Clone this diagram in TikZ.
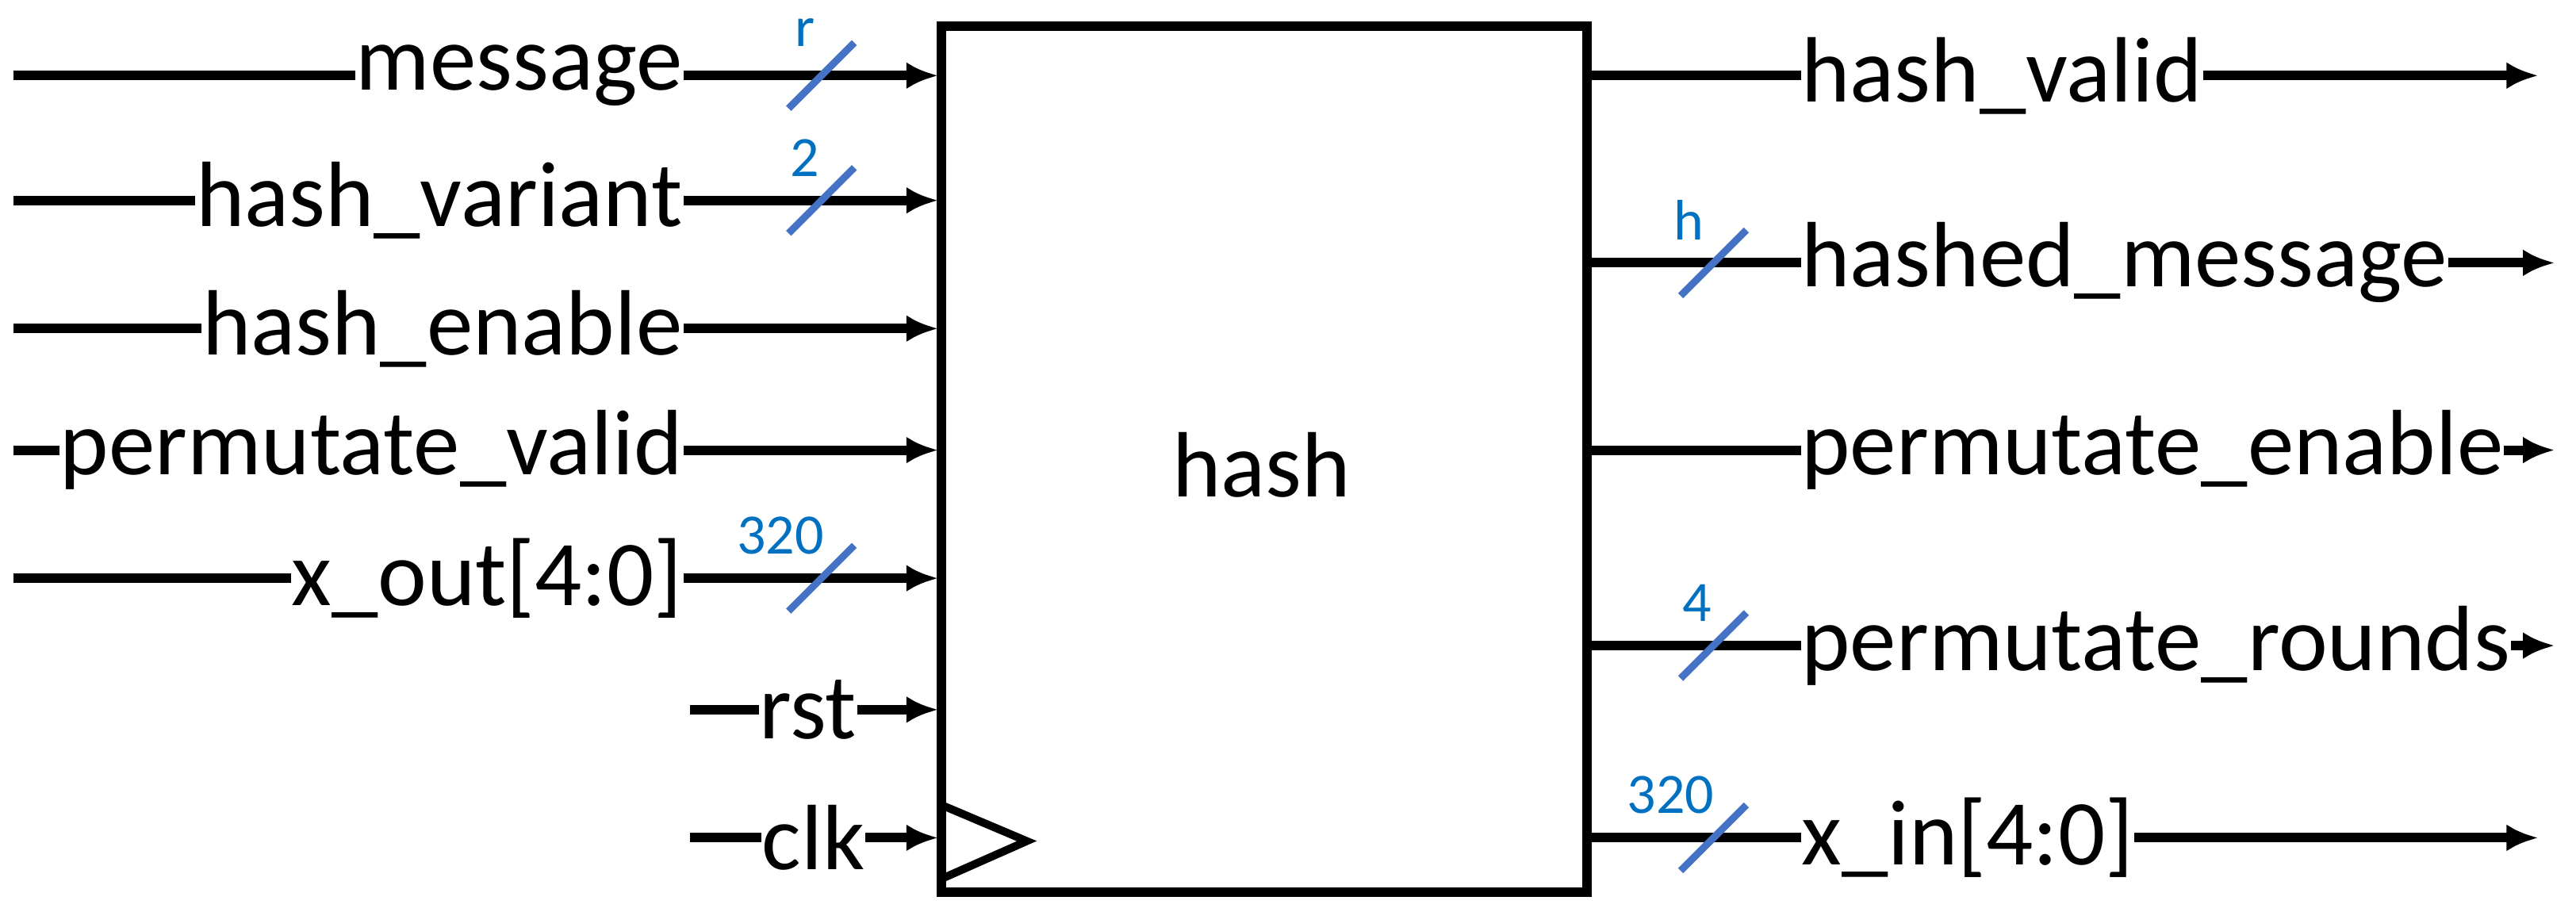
\documentclass[tikz,border=0pt]{standalone}
\usepackage{fontspec}
\setmainfont{Carlito}
\usetikzlibrary{arrows.meta}
\definecolor{busblue}{RGB}{68,114,196}
\definecolor{lblblue}{RGB}{0,112,192}
\begin{document}
\begin{tikzpicture}[x=2.0714pt,y=-2.0714pt,
  wire/.style={line width=12pt,-{Latex[length=40pt,width=34pt]}},
  lbl/.style={fill=white,inner sep=1pt,font=\fontsize{117}{120}\selectfont},
  bus/.style={line width=9pt,busblue},
  buslbl/.style={text=lblblue,inner sep=0pt,font=\fontsize{72}{74}\selectfont}]
\useasboundingbox (0,0) rectangle (1568,555);
\node[draw,line width=12pt,minimum width=393*2.0714pt,minimum height=527*2.0714pt,inner sep=0pt] (box) at (769.5,279.5) {};
\node[font=\fontsize{117}{120}\selectfont] (hash) at (768,283) {hash};
% clock triangle
\draw[line width=10pt,line join=miter] (573,490) coordinate (c1) -- (625,512) coordinate (c2) -- (573,535) coordinate (c3);
% inputs
\foreach \n/\t/\y/\xs/\xt in {m/message/46/8/416, hv/hash\_variant/122/8/416, he/hash\_enable/200/8/416, pv/permutate\_valid/274/8/416, xo/x\_out[4:0]/352/8/416, rst/rst/432/420/522, clk/clk/510/420/527}{
  \coordinate (s\n) at (\xs,\y);
  \coordinate (e\n) at (571,\y);
  \draw[wire] (s\n) -- (e\n);
  \node[lbl,anchor=east] (t\n) at (\xt,\y) {\t};
}
% outputs
\foreach \n/\t/\y/\xe in {o1/hash\_valid/46/1545, o2/hashed\_message/160/1555, o3/permutate\_enable/274/1555, o4/permutate\_rounds/393/1555, o5/x\_in[4:0]/510/1545}{
  \coordinate (s\n) at (966,\y);
  \coordinate (e\n) at (\xe,\y);
  \draw[wire] (s\n) -- (e\n);
  \node[lbl,anchor=west] (t\n) at (1096,\y) {\t};
}
% bus markers
\foreach \n/\x/\y/\l/\lx in {b1/500/46/r/490, b2/500/122/2/490, b3/500/352/320/475, b4/1043/160/h/1028, b5/1043/393/4/1033, b6/1043/510/320/1017}{
  \coordinate (\n a) at (\x-20,\y+20);
  \coordinate (\n b) at (\x+20,\y-20);
  \draw[bus] (\n a) -- (\n b);
  \node[buslbl] (\n l) at (\lx,\y-26) {\l};
}
\end{tikzpicture}
\end{document}
